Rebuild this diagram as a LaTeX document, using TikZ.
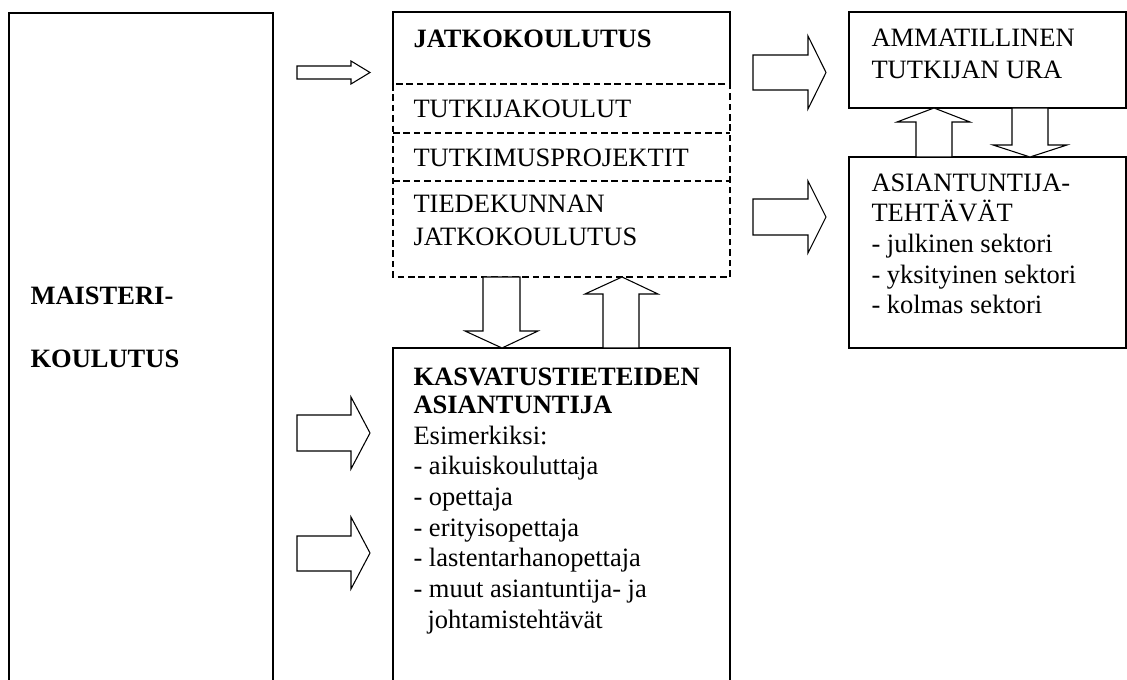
\documentclass[tikz,border=0pt]{standalone}
\usepackage{fontspec}
\setmainfont{Liberation Serif}
\begin{document}
\begin{tikzpicture}[x=0.75pt,y=-0.75pt, line width=0.8pt,
  txt/.style={inner sep=0pt, anchor=base west, align=left, font=\fontsize{19.875}{23}\selectfont},
  txtb/.style={txt, font=\fontsize{19.875}{23}\selectfont\bfseries},
  dashline/.style={dash pattern=on 5pt off 2.8pt},
  blk/.style={draw, fill=white, line join=miter}]
\useasboundingbox (0,0) rectangle (1127,680);
\clip (0,0) rectangle (1127,680);
% boxes
\draw (9,690) -- (9,13) -- (273,13) -- (273,690);
\draw (393,84) -- (393,12) -- (730,12) -- (730,84);
\draw[dashline] (393,84) rectangle (730,277);
\draw[dashline] (393,133) -- (730,133);
\draw[dashline] (393,181) -- (730,181);
\draw (393,690) -- (393,348) -- (730,348) -- (730,690);
\draw (849,12) rectangle (1126,108);
\draw (849,157) rectangle (1126,348);
% block arrows
\draw[blk] (297,66)--(351,66)--(351,61)--(370,72.5)--(351,84)--(351,79)--(297,79)--cycle;
\draw[blk] (753,55)--(808,55)--(808,36)--(826,72.5)--(808,109)--(808,90)--(753,90)--cycle;
\draw[blk] (753,199)--(808,199)--(808,181)--(826,217)--(808,253)--(808,235)--(753,235)--cycle;
\draw[blk] (297,415)--(351,415)--(351,397)--(370,433)--(351,469)--(351,451)--(297,451)--cycle;
\draw[blk] (297,536)--(351,536)--(351,517)--(370,553)--(351,589)--(351,571)--(297,571)--cycle;
\draw[blk] (483,277)--(483,331)--(465,331)--(502,348)--(538,331)--(520,331)--(520,277)--cycle;
\draw[blk] (603,348)--(603,294)--(585,294)--(622,277)--(658,294)--(639,294)--(639,348)--cycle;
\draw[blk] (916,157)--(916,122)--(897,122)--(934,108)--(970,122)--(952,122)--(952,157)--cycle;
\draw[blk] (1012,108)--(1012,145)--(993,145)--(1030,157)--(1067,145)--(1048,145)--(1048,108)--cycle;
% texts (multi-line nodes: base = last line)
\node[txtb] (maist) at (30,368) {MAISTERI-\\[24.25pt]KOULUTUS};
\node[txtb] (jatko) at (413,48) {JATKOKOULUTUS};
\node[txt] (tutkijak) at (413,118) {TUTKIJAKOULUT};
\node[txt] (tutkimusp) at (413,167) {TUTKIMUSPROJEKTIT};
\node[txt] (tiedek) at (413,246) {TIEDEKUNNAN\\[1.75pt]JATKOKOULUTUS};
\node[txt] (ammat) at (871,79) {AMMATILLINEN\\[1pt]TUTKIJAN URA};
\node[txt] (asiant) at (871,314) {ASIANTUNTIJA-\\TEHTÄVÄT\\- julkinen sektori\\- yksityinen sektori\\- kolmas sektori};
\node[txt] (kasv) at (413,628) {\textbf{KASVATUSTIETEIDEN}\\[-2pt]\textbf{ASIANTUNTIJA}\\Esimerkiksi:\\- aikuiskouluttaja\\- opettaja\\- erityisopettaja\\- lastentarhanopettaja\\- muut asiantuntija- ja\\\hspace*{10.5pt}johtamistehtävät};
\end{tikzpicture}
\end{document}
